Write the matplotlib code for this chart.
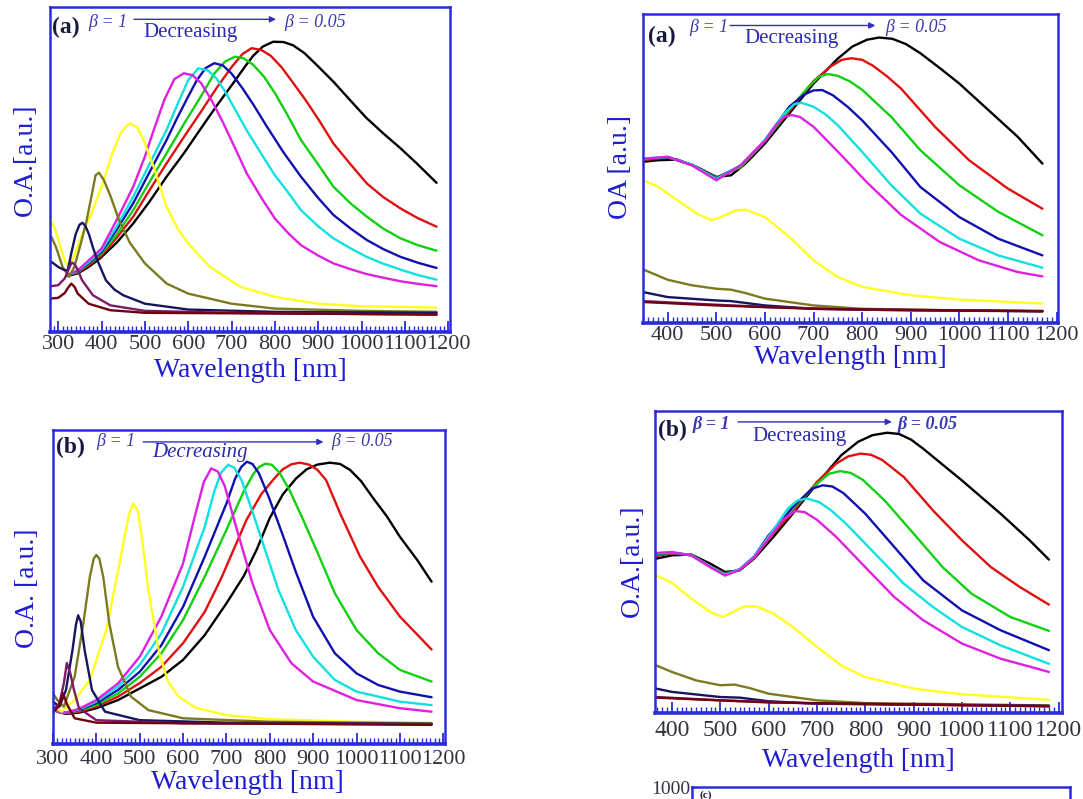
import matplotlib
matplotlib.use("Agg")
import matplotlib.pyplot as plt
from matplotlib.ticker import MultipleLocator

plt.rcParams["font.family"] = ["Liberation Serif", "DejaVu Serif"]

# colours of the eleven spectra, beta = 0.05 (black) ... beta = 1 (maroon)
COLORS = ["#000000", "#e01010", "#10d010", "#1010b0", "#10e0e0", "#e020e0",
          "#ffff20", "#7a7a20", "#151560", "#7a1a6a", "#700010"]
FRAME = "#2a2ae0"
LABEL = "#1e1ed0"
TICKTXT = "#333340"

# ---- panel 1 (top left, (a)) : (wavelength nm, O.A. a.u.)
P1_BLACK = [(320, 0.172), (345, 0.18), (370, 0.20), (396, 0.226), (435, 0.275), (473, 0.334), (510, 0.40),
            (550, 0.478), (590, 0.55), (627, 0.622), (665, 0.695), (704, 0.766), (730, 0.815), (750, 0.85),
            (772, 0.878), (796, 0.893), (820, 0.892), (842, 0.882), (868, 0.858), (896, 0.822), (935, 0.77),
            (973, 0.714), (1010, 0.66), (1050, 0.611), (1090, 0.565), (1127, 0.519), (1173, 0.459)]
P1_RED = [(320, 0.175), (345, 0.182), (370, 0.205), (400, 0.236), (435, 0.29), (473, 0.355), (510, 0.435),
          (550, 0.519), (590, 0.60), (627, 0.673), (665, 0.75), (700, 0.815), (725, 0.855), (746, 0.873),
          (768, 0.868), (790, 0.85), (815, 0.815), (840, 0.77), (870, 0.715), (900, 0.655), (935, 0.58),
          (975, 0.515), (1012, 0.457), (1050, 0.415), (1090, 0.38), (1130, 0.35), (1173, 0.324)]
P1_GREEN = [(320, 0.175), (345, 0.184), (370, 0.21), (400, 0.242), (435, 0.30), (473, 0.375), (510, 0.46),
            (550, 0.55), (590, 0.64), (627, 0.72), (660, 0.795), (685, 0.832), (708, 0.847), (728, 0.842),
            (750, 0.822), (775, 0.785), (800, 0.735), (830, 0.665), (860, 0.591), (900, 0.515), (935, 0.447),
            (975, 0.395), (1012, 0.355), (1050, 0.318), (1090, 0.288), (1130, 0.267), (1173, 0.25)]
P1_BLUE = [(320, 0.175), (345, 0.186), (370, 0.212), (400, 0.247), (435, 0.315), (473, 0.396), (510, 0.49),
           (550, 0.591), (575, 0.66), (600, 0.725), (620, 0.775), (640, 0.812), (660, 0.827), (680, 0.82),
           (700, 0.795), (725, 0.75), (750, 0.7), (780, 0.635), (820, 0.552), (860, 0.478), (900, 0.412),
           (935, 0.36), (975, 0.318), (1012, 0.283), (1050, 0.255), (1090, 0.231), (1130, 0.213), (1173, 0.197)]
P1_CYAN = [(320, 0.175), (345, 0.188), (370, 0.215), (400, 0.252), (435, 0.325), (473, 0.416), (510, 0.515),
           (550, 0.622), (575, 0.70), (600, 0.775), (623, 0.811), (645, 0.805), (665, 0.78), (685, 0.74),
           (710, 0.68), (735, 0.62), (770, 0.545), (800, 0.482), (830, 0.43), (860, 0.375), (900, 0.325),
           (935, 0.288), (975, 0.257), (1012, 0.231), (1050, 0.21), (1090, 0.192), (1130, 0.175), (1173, 0.161)]
P1_MAGENTA = [(320, 0.175), (345, 0.19), (370, 0.22), (400, 0.257), (435, 0.345), (473, 0.447), (500, 0.54),
              (520, 0.62), (545, 0.715), (568, 0.778), (590, 0.796), (610, 0.79), (630, 0.765), (655, 0.71),
              (680, 0.645), (710, 0.56), (735, 0.488), (770, 0.41), (800, 0.349), (830, 0.305), (860, 0.267),
              (900, 0.235), (935, 0.211), (975, 0.193), (1012, 0.178), (1050, 0.167), (1090, 0.156),
              (1130, 0.148), (1173, 0.141)]
P1_YELLOW = [(284, 0.339), (292, 0.32), (305, 0.26), (315, 0.22), (323, 0.20), (335, 0.23), (350, 0.283),
             (375, 0.36), (400, 0.447), (425, 0.55), (445, 0.615), (465, 0.642), (482, 0.63), (497, 0.59),
             (520, 0.509), (550, 0.385), (575, 0.32), (600, 0.272), (650, 0.20), (720, 0.139), (800, 0.108),
             (900, 0.087), (1000, 0.079), (1100, 0.077), (1173, 0.075)]
P1_OLIVE = [(284, 0.293), (295, 0.26), (310, 0.20), (325, 0.17), (337, 0.20), (350, 0.262), (365, 0.34),
            (377, 0.42), (386, 0.482), (394, 0.49), (405, 0.468), (420, 0.42), (440, 0.345), (465, 0.275),
            (500, 0.211), (550, 0.149), (600, 0.118), (700, 0.087), (800, 0.072), (1000, 0.065), (1173, 0.062)]
P1_NAVY = [(284, 0.216), (300, 0.20), (315, 0.19), (322, 0.19), (330, 0.242), (340, 0.30), (349, 0.33),
           (356, 0.336), (363, 0.325), (371, 0.3), (380, 0.26), (390, 0.221), (410, 0.159), (430, 0.13),
           (450, 0.113), (500, 0.087), (600, 0.069), (800, 0.062), (1173, 0.059)]
P1_PURPLE = [(284, 0.141), (300, 0.144), (315, 0.165), (323, 0.19), (331, 0.214), (338, 0.208), (346, 0.188),
             (355, 0.159), (380, 0.113), (420, 0.082), (500, 0.065), (700, 0.059), (1173, 0.053)]
P1_MAROON = [(284, 0.103), (300, 0.105), (315, 0.12), (322, 0.135), (330, 0.149), (338, 0.138), (345, 0.118),
             (370, 0.087), (420, 0.067), (500, 0.059), (1173, 0.054)]

# ---- panel 2 (top right, (a))
P2_BLACK = [(350, 0.522), (380, 0.527), (420, 0.529), (460, 0.505), (500, 0.473), (530, 0.478), (560, 0.516),
            (600, 0.581), (650, 0.678), (700, 0.775), (750, 0.856), (780, 0.895), (810, 0.917), (835, 0.924),
            (862, 0.92), (890, 0.903), (920, 0.873), (960, 0.825), (1000, 0.775), (1060, 0.689), (1120, 0.603),
            (1171, 0.516)]
P2_RED = [(350, 0.527), (400, 0.536), (450, 0.512), (500, 0.471), (550, 0.505), (600, 0.589), (650, 0.686),
          (700, 0.783), (735, 0.83), (758, 0.852), (778, 0.857), (800, 0.852), (822, 0.833), (850, 0.80),
          (880, 0.759), (950, 0.635), (1020, 0.527), (1100, 0.435), (1171, 0.37)]
P2_GREEN = [(350, 0.53), (400, 0.537), (450, 0.512), (500, 0.47), (550, 0.505), (600, 0.589), (650, 0.691),
            (690, 0.765), (712, 0.798), (730, 0.806), (750, 0.8), (775, 0.782), (800, 0.755), (860, 0.667),
            (920, 0.559), (1000, 0.446), (1080, 0.36), (1171, 0.284)]
P2_BLUE = [(350, 0.53), (400, 0.537), (450, 0.512), (500, 0.468), (550, 0.51), (600, 0.592), (650, 0.70),
           (680, 0.739), (700, 0.753), (718, 0.754), (740, 0.737), (770, 0.70), (800, 0.656), (860, 0.554),
           (920, 0.44), (1000, 0.343), (1080, 0.273), (1171, 0.219)]
P2_CYAN = [(350, 0.532), (400, 0.538), (450, 0.512), (500, 0.466), (550, 0.51), (600, 0.592), (640, 0.678),
           (660, 0.708), (675, 0.713), (700, 0.70), (725, 0.675), (750, 0.64), (800, 0.554), (860, 0.446),
           (920, 0.354), (1000, 0.273), (1080, 0.219), (1171, 0.179)]
P2_MAGENTA = [(350, 0.532), (400, 0.538), (450, 0.51), (500, 0.462), (550, 0.51), (600, 0.589), (622, 0.64),
              (640, 0.668), (655, 0.673), (672, 0.667), (700, 0.635), (750, 0.555), (810, 0.455), (880, 0.35),
              (960, 0.262), (1040, 0.203), (1120, 0.165), (1171, 0.151)]
P2_YELLOW = [(350, 0.462), (380, 0.441), (420, 0.397), (460, 0.354), (490, 0.333), (510, 0.343), (540, 0.365),
             (560, 0.367), (600, 0.343), (650, 0.279), (700, 0.203), (750, 0.149), (800, 0.117), (900, 0.09),
             (1000, 0.076), (1171, 0.063)]
P2_OLIVE = [(350, 0.173), (400, 0.14), (450, 0.122), (500, 0.111), (530, 0.108), (560, 0.097), (600, 0.079),
            (700, 0.057), (800, 0.046), (1000, 0.041), (1171, 0.039)]
P2_NAVY = [(350, 0.10), (400, 0.084), (500, 0.073), (530, 0.071), (600, 0.057), (700, 0.046), (900, 0.041),
           (1171, 0.038)]
P2_PURPLE = [(350, 0.071), (450, 0.063), (600, 0.052), (800, 0.043), (1171, 0.039)]
P2_MAROON = [(350, 0.068), (500, 0.057), (700, 0.046), (1171, 0.038)]

# ---- panel 3 (bottom left, (b))
P3_BLACK = [(310, 0.103), (330, 0.096), (360, 0.10), (400, 0.114), (450, 0.14), (500, 0.177), (550, 0.214),
            (600, 0.268), (650, 0.347), (700, 0.448), (740, 0.535), (770, 0.62), (800, 0.72), (830, 0.795),
            (860, 0.845), (885, 0.875), (910, 0.89), (938, 0.896), (962, 0.892), (985, 0.873), (1010, 0.838),
            (1040, 0.78), (1070, 0.725), (1100, 0.66), (1140, 0.586), (1173, 0.517)]
P3_RED = [(310, 0.103), (330, 0.098), (360, 0.103), (400, 0.119), (450, 0.151), (500, 0.194), (550, 0.246),
          (600, 0.321), (650, 0.421), (688, 0.528), (720, 0.63), (746, 0.713), (780, 0.795), (808, 0.842),
          (830, 0.875), (850, 0.891), (869, 0.896), (890, 0.89), (910, 0.873), (930, 0.84), (962, 0.735),
          (1008, 0.597), (1050, 0.5), (1100, 0.406), (1173, 0.301)]
P3_GREEN = [(310, 0.103), (330, 0.10), (360, 0.106), (400, 0.124), (450, 0.161), (500, 0.214), (550, 0.289),
            (600, 0.395), (650, 0.533), (700, 0.682), (740, 0.805), (762, 0.86), (775, 0.882), (790, 0.893),
            (805, 0.889), (822, 0.865), (845, 0.81), (875, 0.72), (910, 0.61), (950, 0.48), (1000, 0.363),
            (1050, 0.289), (1100, 0.236), (1173, 0.199)]
P3_BLUE = [(310, 0.103), (330, 0.10), (360, 0.108), (400, 0.13), (450, 0.172), (500, 0.23), (550, 0.315),
           (600, 0.437), (650, 0.597), (700, 0.766), (720, 0.845), (734, 0.882), (747, 0.899), (760, 0.892),
           (775, 0.862), (798, 0.785), (830, 0.665), (860, 0.548), (900, 0.405), (950, 0.289), (1000, 0.225),
           (1050, 0.188), (1100, 0.167), (1173, 0.149)]
P3_CYAN = [(310, 0.103), (330, 0.10), (360, 0.11), (400, 0.135), (450, 0.183), (500, 0.252), (550, 0.352),
           (600, 0.501), (650, 0.692), (672, 0.805), (688, 0.865), (704, 0.889), (718, 0.88), (735, 0.84),
           (760, 0.74), (790, 0.615), (820, 0.49), (860, 0.363), (900, 0.278), (950, 0.204), (1000, 0.167),
           (1100, 0.135), (1173, 0.124)]
P3_MAGENTA = [(310, 0.103), (330, 0.10), (360, 0.112), (400, 0.14), (450, 0.193), (500, 0.278), (550, 0.406),
              (600, 0.575), (628, 0.73), (648, 0.835), (665, 0.878), (680, 0.868), (696, 0.822), (720, 0.703),
              (760, 0.512), (800, 0.363), (850, 0.257), (900, 0.199), (1000, 0.14), (1100, 0.114), (1173, 0.103)]
P3_YELLOW = [(300, 0.119), (320, 0.103), (350, 0.14), (385, 0.204), (423, 0.363), (450, 0.55), (465, 0.66),
             (475, 0.73), (485, 0.766), (495, 0.745), (505, 0.66), (520, 0.49), (545, 0.29), (565, 0.2),
             (590, 0.15), (630, 0.115), (700, 0.092), (800, 0.079), (1000, 0.071), (1173, 0.068)]
P3_OLIVE = [(300, 0.161), (310, 0.14), (325, 0.119), (350, 0.214), (370, 0.384), (385, 0.532), (394, 0.59),
            (400, 0.602), (407, 0.59), (416, 0.532), (430, 0.384), (450, 0.246), (480, 0.151), (520, 0.108),
            (600, 0.082), (800, 0.071), (1173, 0.066)]
P3_NAVY = [(300, 0.135), (315, 0.119), (330, 0.172), (345, 0.299), (353, 0.38), (358, 0.41), (364, 0.39),
           (373, 0.299), (390, 0.172), (420, 0.103), (500, 0.076), (700, 0.068), (1173, 0.064)]
P3_PURPLE = [(300, 0.108), (315, 0.13), (325, 0.193), (332, 0.258), (340, 0.225), (348, 0.175), (360, 0.114),
             (400, 0.076), (600, 0.066), (1173, 0.063)]
P3_MAROON = [(300, 0.098), (315, 0.124), (323, 0.162), (333, 0.125), (350, 0.082), (400, 0.068), (1173, 0.061)]

# ---- panel 4 (bottom right, (b))
P4_BLACK = [(367, 0.511), (400, 0.522), (440, 0.525), (480, 0.494), (510, 0.467), (540, 0.472), (570, 0.511),
            (610, 0.583), (650, 0.66), (700, 0.759), (750, 0.853), (785, 0.898), (815, 0.92), (845, 0.928),
            (870, 0.924), (895, 0.905), (920, 0.875), (1000, 0.77), (1080, 0.66), (1140, 0.572), (1180, 0.508)]
P4_RED = [(367, 0.52), (400, 0.528), (440, 0.523), (480, 0.486), (510, 0.462), (540, 0.474), (570, 0.513),
          (600, 0.577), (650, 0.666), (700, 0.765), (740, 0.826), (765, 0.85), (790, 0.859), (812, 0.855),
          (835, 0.838), (880, 0.781), (940, 0.671), (1000, 0.572), (1060, 0.483), (1120, 0.417), (1180, 0.359)]
P4_GREEN = [(367, 0.525), (400, 0.53), (440, 0.523), (480, 0.485), (510, 0.46), (540, 0.474), (570, 0.515),
            (600, 0.583), (650, 0.677), (700, 0.759), (725, 0.792), (748, 0.801), (770, 0.795), (795, 0.772),
            (840, 0.704), (900, 0.594), (960, 0.483), (1020, 0.395), (1100, 0.318), (1180, 0.272)]
P4_BLUE = [(367, 0.527), (400, 0.531), (440, 0.522), (480, 0.484), (510, 0.459), (540, 0.476), (570, 0.518),
           (600, 0.588), (650, 0.682), (690, 0.743), (712, 0.754), (732, 0.75), (755, 0.728), (800, 0.66),
           (860, 0.55), (920, 0.439), (1000, 0.34), (1080, 0.274), (1180, 0.208)]
P4_CYAN = [(367, 0.528), (400, 0.532), (440, 0.523), (480, 0.484), (510, 0.458), (540, 0.476), (570, 0.518),
           (600, 0.583), (640, 0.677), (660, 0.704), (680, 0.71), (705, 0.698), (730, 0.67), (760, 0.627),
           (820, 0.528), (880, 0.428), (940, 0.351), (1000, 0.285), (1080, 0.224), (1180, 0.163)]
P4_MAGENTA = [(367, 0.53), (400, 0.533), (440, 0.522), (480, 0.482), (510, 0.455), (540, 0.474), (570, 0.515),
              (600, 0.577), (630, 0.64), (655, 0.669), (675, 0.665), (700, 0.64), (740, 0.583), (800, 0.483),
              (860, 0.384), (920, 0.307), (1000, 0.23), (1080, 0.18), (1180, 0.136)]
P4_YELLOW = [(367, 0.456), (400, 0.431), (440, 0.379), (480, 0.334), (505, 0.318), (525, 0.334), (550, 0.353),
             (575, 0.353), (610, 0.329), (650, 0.285), (700, 0.219), (750, 0.158), (800, 0.119), (900, 0.081),
             (1000, 0.062), (1180, 0.044)]
P4_OLIVE = [(367, 0.158), (400, 0.136), (450, 0.108), (500, 0.092), (530, 0.094), (560, 0.083), (600, 0.064),
            (700, 0.042), (800, 0.033), (1000, 0.029), (1180, 0.025)]
P4_NAVY = [(367, 0.081), (400, 0.07), (500, 0.053), (540, 0.051), (600, 0.039), (700, 0.031), (1180, 0.024)]
P4_PURPLE = [(367, 0.053), (500, 0.042), (700, 0.031), (1180, 0.023)]
P4_MAROON = [(367, 0.051), (600, 0.035), (1180, 0.022)]

XTICKS = [300, 400, 500, 600, 700, 800, 900, 1000, 1100, 1200]


def draw_panel(ax, curves, xlim, ylabel, tag, beta_style, dec_style, ann, xlab_pos, ylab_pos, pad, fs):
    for data, color in zip(curves, COLORS):
        wl = [p[0] for p in data]
        oa = [p[1] for p in data]
        ax.plot(wl, oa, color=color, lw=1.7, solid_joinstyle="round", solid_capstyle="round")
    ax.set_xlim(*xlim)
    ax.set_ylim(0, 1)
    ax.set_xticks([t for t in XTICKS if xlim[0] <= t <= xlim[1] + 10])
    ax.xaxis.set_minor_locator(MultipleLocator(10))
    ax.set_yticks([])
    ax.tick_params(axis="x", which="major", direction="in", length=8, width=1.3, color=FRAME,
                   labelcolor=TICKTXT, labelsize=fs, pad=pad)
    ax.tick_params(axis="x", which="minor", direction="in", length=4, width=1.0, color=FRAME)
    for side, sp in ax.spines.items():
        sp.set_color(FRAME)
        sp.set_linewidth(2.6 if side == "bottom" else 1.8)
    ax.set_xlabel("Wavelength [nm]", color=LABEL, fontsize=20)
    ax.xaxis.set_label_coords(*xlab_pos)
    ax.xaxis.label.set_va("center")
    ax.set_ylabel(ylabel, color=LABEL, fontsize=20)
    ax.yaxis.set_label_coords(*ylab_pos)
    ax.yaxis.label.set_va("center")

    (tx, ty), (bx, by), (a0, a1, ay), (dx, dy), (ex, ey) = ann
    ax.text(tx, ty, tag, transform=ax.transAxes, fontsize=17, fontweight="bold", color="#1a1a40",
            va="center", ha="left")
    ax.text(bx, by, "\u03b2 = 1", transform=ax.transAxes, fontsize=13,
            color="#3a3ab0", va="center", ha="left", **beta_style)
    ax.annotate("", xy=(a1, ay), xytext=(a0, ay), xycoords="axes fraction",
                arrowprops=dict(arrowstyle="-|>", color="#3030c0", lw=1.0, mutation_scale=9,
                                shrinkA=0, shrinkB=0))
    ax.text(dx, dy, "Decreasing", transform=ax.transAxes, fontsize=15, color="#2a2ab0",
            va="center", ha="center", **dec_style)
    ax.text(ex, ey, "\u03b2 = 0.05", transform=ax.transAxes, fontsize=13,
            color="#3a3ab0", va="center", ha="left", **beta_style)


fig = plt.figure(figsize=(10.83, 7.99), dpi=100)

ax1 = fig.add_axes([0.0462, 0.5845, 0.3693, 0.4068])
draw_panel(ax1, [P1_BLACK, P1_RED, P1_GREEN, P1_BLUE, P1_CYAN, P1_MAGENTA, P1_YELLOW, P1_OLIVE, P1_NAVY,
                 P1_PURPLE, P1_MAROON],
           (281, 1204), "O.A.[a.u.]", "(a)", dict(style="italic"), dict(),
           ((0.005, 0.938), (0.095, 0.951), (0.21, 0.565, 0.962), (0.35, 0.921), (0.585, 0.951)),
           (0.5, -0.117), (-0.0625, 0.53), 2, 16)

ax2 = fig.add_axes([0.5937, 0.5957, 0.3832, 0.3867])
draw_panel(ax2, [P2_BLACK, P2_RED, P2_GREEN, P2_BLUE, P2_CYAN, P2_MAGENTA, P2_YELLOW, P2_OLIVE, P2_NAVY,
                 P2_PURPLE, P2_MAROON],
           (349, 1203), "OA [a.u.]", "(a)", dict(style="italic"), dict(),
           ((0.012, 0.926), (0.112, 0.958), (0.21, 0.56, 0.963), (0.357, 0.92), (0.585, 0.958)),
           (0.5, -0.113), (-0.055, 0.505), 2, 16)

ax3 = fig.add_axes([0.0489, 0.0688, 0.3620, 0.3930])
draw_panel(ax3, [P3_BLACK, P3_RED, P3_GREEN, P3_BLUE, P3_CYAN, P3_MAGENTA, P3_YELLOW, P3_OLIVE, P3_NAVY,
                 P3_PURPLE, P3_MAROON],
           (300, 1204), "O.A. [a.u.]", "(b)", dict(style="italic"), dict(style="italic"),
           ((0.008, 0.946), (0.11, 0.962), (0.23, 0.69, 0.962), (0.375, 0.928), (0.71, 0.962)),
           (0.497, -0.121), (-0.064, 0.497), 4, 16)

ax4 = fig.add_axes([0.6048, 0.1076, 0.3758, 0.3780])
draw_panel(ax4, [P4_BLACK, P4_RED, P4_GREEN, P4_BLUE, P4_CYAN, P4_MAGENTA, P4_YELLOW, P4_OLIVE, P4_NAVY,
                 P4_PURPLE, P4_MAROON],
           (365, 1207), "O.A.[a.u.]", "(b)", dict(style="italic", fontweight="bold"), dict(),
           ((0.008, 0.937), (0.093, 0.954), (0.204, 0.582, 0.964), (0.354, 0.914), (0.597, 0.954)),
           (0.499, -0.156), (-0.0565, 0.503), 5, 17)

# next panel, cut off at the bottom edge of the page
ax5 = fig.add_axes([0.639, -0.36, 0.349, 0.375])
ax5.set_ylim(0, 1000)
ax5.set_xlim(0, 1)
ax5.set_yticks([1000])
ax5.set_xticks([])
ax5.tick_params(axis="y", direction="in", length=5, color=FRAME, labelcolor=TICKTXT, labelsize=14, pad=1)
for sp in ax5.spines.values():
    sp.set_color(FRAME)
    sp.set_linewidth(1.8)
ax5.text(0.02, 0.99, "(c)", transform=ax5.transAxes, fontsize=8, fontweight="bold", color="#1a1a40",
         va="top", ha="left")

fig.savefig("out.png", dpi=100)
